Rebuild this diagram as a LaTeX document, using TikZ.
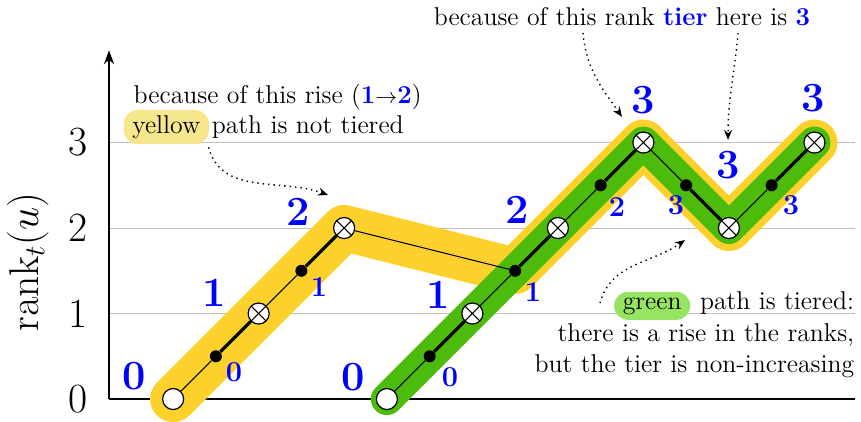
\documentclass[tikz,border=0pt]{standalone}
\usetikzlibrary{arrows.meta}
\definecolor{bandY}{RGB}{253,209,43}
\definecolor{bandG}{RGB}{76,187,12}
\definecolor{hlY}{RGB}{246,230,140}
\definecolor{hlG}{RGB}{150,228,98}
\definecolor{gridc}{RGB}{190,190,190}
\begin{document}
\begin{tikzpicture}[x=1.5cm,y=1.5cm,
  txt/.style={inner sep=0pt, font=\fontsize{12.85}{15}\selectfont},
  hl/.style={txt, inner xsep=4.3pt, inner ysep=2.8pt, rounded corners=7pt},
  band/.style={line cap=round, line join=round},
  plainc/.style={circle, draw, fill=white, line width=0.6pt, minimum size=10.5pt, inner sep=0pt},
  crossed/.style={plainc, path picture={\draw[line width=0.5pt]
     (path picture bounding box.north west) -- (path picture bounding box.south east)
     (path picture bounding box.north east) -- (path picture bounding box.south west);}},
  dotn/.style={circle, fill=black, minimum size=6pt, inner sep=0pt},
  light/.style={line width=0.5pt},
  heavy/.style={line width=1.6pt},
  bignum/.style={text=blue, font=\fontsize{20.74}{25}\selectfont\bfseries, inner sep=0pt},
  smallnum/.style={text=blue, font=\fontsize{14.4}{17}\selectfont\bfseries, inner sep=0pt},
  tick/.style={font=\fontsize{20.74}{25}\selectfont, inner sep=0pt},
  callout/.style={dotted, line width=0.7pt, -{Stealth[length=5pt,width=4pt]}}
]
\useasboundingbox (-1.275,-0.257) rectangle (8.795,4.667);

% grid
\foreach \k in {1,2,3} \draw[gridc, line width=0.5pt] (0,\k) -- (8.72,\k);
% axes
\coordinate (O) at (0,0);
\coordinate (ytop) at (0,4.08);
\coordinate (xend) at (8.72,0);
\draw[line width=0.9pt, -{Stealth[length=7pt,width=5pt]}] (O) -- (ytop);
\draw[line width=0.9pt] (O) -- (xend);
\foreach \k in {0,1,2,3} \node[tick] (t\k) at (-0.363,\k) {\k};
\node[rotate=90, inner sep=0pt, font=\fontsize{19.6}{23}\selectfont] (ylab) at (-0.95,1.6) {$\mathrm{rank}_t(u)$};

% bands
\draw[band, bandY, line width=23pt] (0.75,0) -- (2.75,2) -- (4.75,1.5) -- (6.25,3) -- (7.25,2) -- (8.25,3);
\draw[band, bandG, line width=16pt] (3.25,0) -- (6.25,3) -- (7.25,2) -- (8.25,3);

% yellow path nodes
\node[plainc] (y0) at (0.75,0) {};
\node[dotn] (yd1) at (1.25,0.5) {};
\node[crossed] (y1) at (1.75,1) {};
\node[dotn] (yd2) at (2.25,1.5) {};
\node[crossed] (y2) at (2.75,2) {};
% green path nodes
\node[plainc] (g0) at (3.25,0) {};
\node[dotn] (gd1) at (3.75,0.5) {};
\node[crossed] (g1) at (4.25,1) {};
\node[dotn] (gd2) at (4.75,1.5) {};
\node[crossed] (g2) at (5.25,2) {};
\node[dotn] (gd3) at (5.75,2.5) {};
\node[crossed] (g3) at (6.25,3) {};
\node[dotn] (gd4) at (6.75,2.5) {};
\node[crossed] (g4) at (7.25,2) {};
\node[dotn] (gd5) at (7.75,2.5) {};
\node[crossed] (g5) at (8.25,3) {};

% edges
\draw[light] (y0) -- (yd1);
\draw[heavy] (yd1) -- (y1);
\draw[light] (y1) -- (yd2);
\draw[heavy] (yd2) -- (y2);
\draw[light] (y2) -- (gd2);
\draw[light] (g0) -- (gd1);
\draw[heavy] (gd1) -- (g1);
\draw[light] (g1) -- (gd2);
\draw[heavy] (gd2) -- (g2);
\draw[light] (g2) -- (gd3);
\draw[heavy] (gd3) -- (g3);
\draw[light] (g3) -- (gd4);
\draw[heavy] (gd4) -- (g4);
\draw[light] (g4) -- (gd5);
\draw[heavy] (gd5) -- (g5);

% rank labels
\node[bignum] (ry0) at (0.292,0.269) {0};
\node[bignum] (ry1) at (1.228,1.24) {1};
\node[bignum] (ry2) at (2.21,2.187) {2};
\node[bignum] (rg0) at (2.854,0.257) {0};
\node[bignum] (rg1) at (3.848,1.216) {1};
\node[bignum] (rg2) at (4.772,2.21) {2};
\node[bignum] (rg3) at (6.246,3.497) {3};
\node[bignum] (rg4) at (7.24,2.737) {3};
\node[bignum] (rg5) at (8.234,3.52) {3};
% tier labels
\node[smallnum] (sy1) at (1.462,0.316) {0};
\node[smallnum] (sy2) at (2.456,1.31) {1};
\node[smallnum] (sg1) at (3.988,0.257) {0};
\node[smallnum] (sg2) at (4.959,1.251) {1};
\node[smallnum] (sg3) at (5.942,2.246) {2};
\node[smallnum] (sg4) at (6.632,2.269) {3};
\node[smallnum] (sg5) at (7.977,2.269) {3};

% top note
\node[txt, anchor=base west] (top) at (3.794,4.374) {because of this rank \textcolor{blue}{\textbf{tier}} here is \textcolor{blue}{\textbf{3}}};
\coordinate (a1s) at (5.544,4.281);
\coordinate (a1e) at (6.0,3.30);
\coordinate (a2s) at (7.357,4.281);
\coordinate (a2e) at (7.24,3.03);
\draw[callout] (a1s) to[out=-85,in=125] (a1e);
\draw[callout] (a2s) to[out=-95,in=90] (a2e);

% left note
\node[txt, anchor=base west] (l1) at (0.284,3.458) {because of this rise (\textcolor{blue}{\textbf{1}}{\fontsize{10.5}{12}\selectfont$\to$}\textcolor{blue}{\textbf{2}})};
\node[hl, fill=hlY, anchor=base west] (hy) at (0.168,3.107) {yellow};
\node[txt, anchor=base west, xshift=1pt] (l2) at (hy.base east) {path is not tiered};
\coordinate (a3e) at (2.561,2.386);
\draw[callout] (hy.south east) ++(-0.01,-0.03) to[out=-75,in=160] (a3e);

% right note
\node[txt, anchor=base east] (r1) at (8.72,1.053) {path is tiered:};
\node[hl, fill=hlG, anchor=base east, xshift=-4.5pt] (hg) at (r1.base west) {green};
\node[txt, anchor=base east] (r2) at (8.72,0.670) {there is a rise in the ranks,};
\node[txt, anchor=base east] (r3) at (8.72,0.308) {but the tier is non-increasing};
\coordinate (a4s) at (5.743,1.123);
\coordinate (a4e) at (6.737,1.86);
\draw[callout] (a4s) to[out=75,in=-145] (a4e);
\end{tikzpicture}
\end{document}
